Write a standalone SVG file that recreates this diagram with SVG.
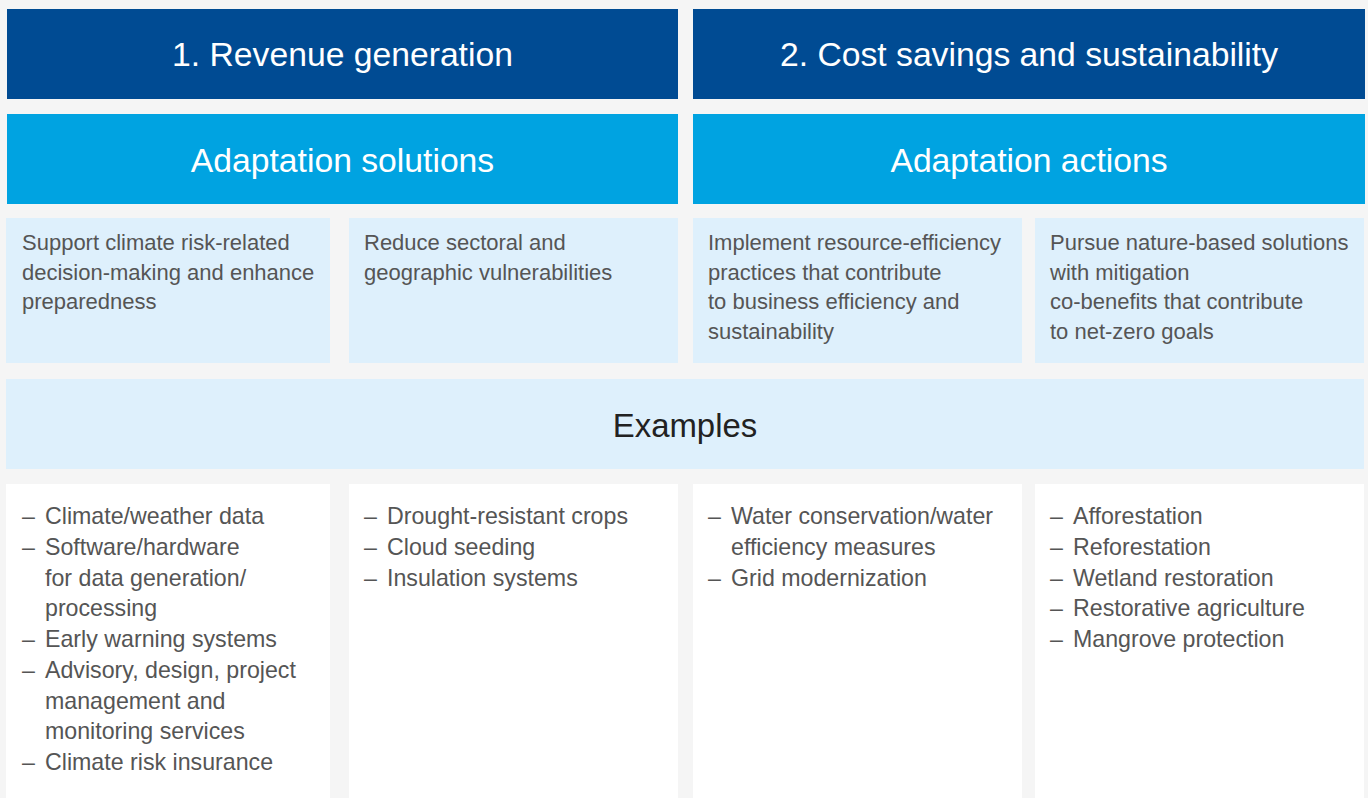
<svg xmlns="http://www.w3.org/2000/svg" width="1368" height="798" viewBox="0 0 1368 798">
<style>
.bg{fill:#f5f5f5}
.dark{fill:#004b93}
.mid{fill:#00a3e1}
.light{fill:#def0fc}
.white{fill:#ffffff}
.h1{font-family:"Liberation Sans",Arial,sans-serif;font-size:33.7px;fill:#ffffff;text-anchor:middle}
.h2{font-family:"Liberation Sans",Arial,sans-serif;font-size:32.9px;fill:#222222;text-anchor:middle}
.body{font-family:"Liberation Sans",Arial,sans-serif;font-size:22px;fill:#555555}
.list{font-family:"Liberation Sans",Arial,sans-serif;font-size:23.2px;fill:#555555}
</style>
<rect class="bg" x="0" y="0" width="1368" height="798"/>
<g id="header-revenue"><rect class="dark" x="7" y="9" width="671" height="90"/><text class="h1" x="342.5" y="66">1. Revenue generation</text></g>
<g id="header-cost"><rect class="dark" x="693" y="9" width="672" height="90"/><text class="h1" x="1029" y="66">2. Cost savings and sustainability</text></g>
<g id="sub-solutions"><rect class="mid" x="7" y="114" width="671" height="90"/><text class="h1" x="342.5" y="172">Adaptation solutions</text></g>
<g id="sub-actions"><rect class="mid" x="693" y="114" width="672" height="90"/><text class="h1" x="1029" y="172">Adaptation actions</text></g>
<g id="card-1"><rect class="light" x="6" y="218" width="324" height="145"/><text class="body"><tspan x="22" y="250">Support climate risk-related</tspan><tspan x="22" y="279.5">decision-making and enhance</tspan><tspan x="22" y="309">preparedness</tspan></text></g>
<g id="card-2"><rect class="light" x="349" y="218" width="329" height="145"/><text class="body"><tspan x="364" y="250">Reduce sectoral and</tspan><tspan x="364" y="279.5">geographic vulnerabilities</tspan></text></g>
<g id="card-3"><rect class="light" x="693" y="218" width="329" height="145"/><text class="body"><tspan x="708" y="250">Implement resource-efficiency</tspan><tspan x="708" y="279.5">practices that contribute</tspan><tspan x="708" y="309">to business efficiency and</tspan><tspan x="708" y="338.5">sustainability</tspan></text></g>
<g id="card-4"><rect class="light" x="1035" y="218" width="329" height="145"/><text class="body"><tspan x="1050" y="250">Pursue nature-based solutions</tspan><tspan x="1050" y="279.5">with mitigation</tspan><tspan x="1050" y="309">co-benefits that contribute</tspan><tspan x="1050" y="338.5">to net-zero goals</tspan></text></g>
<g id="examples"><rect class="light" x="6" y="379" width="1358" height="90"/><text class="h2" x="685" y="437">Examples</text></g>
<g id="list-1"><rect class="white" x="6" y="484" width="324" height="314"/><text class="list"><tspan x="22" y="524">–</tspan><tspan x="45" y="524">Climate/weather data</tspan><tspan x="22" y="555">–</tspan><tspan x="45" y="555">Software/hardware</tspan><tspan x="45" y="585.5">for data generation/</tspan><tspan x="45" y="616">processing</tspan><tspan x="22" y="647">–</tspan><tspan x="45" y="647">Early warning systems</tspan><tspan x="22" y="678">–</tspan><tspan x="45" y="678">Advisory, design, project</tspan><tspan x="45" y="708.5">management and</tspan><tspan x="45" y="739">monitoring services</tspan><tspan x="22" y="770">–</tspan><tspan x="45" y="770">Climate risk insurance</tspan></text></g>
<g id="list-2"><rect class="white" x="349" y="484" width="329" height="314"/><text class="list"><tspan x="364" y="524">–</tspan><tspan x="387" y="524">Drought-resistant crops</tspan><tspan x="364" y="555">–</tspan><tspan x="387" y="555">Cloud seeding</tspan><tspan x="364" y="585.5">–</tspan><tspan x="387" y="585.5">Insulation systems</tspan></text></g>
<g id="list-3"><rect class="white" x="693" y="484" width="329" height="314"/><text class="list"><tspan x="708" y="524">–</tspan><tspan x="731" y="524">Water conservation/water</tspan><tspan x="731" y="555">efficiency measures</tspan><tspan x="708" y="585.5">–</tspan><tspan x="731" y="585.5">Grid modernization</tspan></text></g>
<g id="list-4"><rect class="white" x="1035" y="484" width="329" height="314"/><text class="list"><tspan x="1050" y="524">–</tspan><tspan x="1073" y="524">Afforestation</tspan><tspan x="1050" y="555">–</tspan><tspan x="1073" y="555">Reforestation</tspan><tspan x="1050" y="585.5">–</tspan><tspan x="1073" y="585.5">Wetland restoration</tspan><tspan x="1050" y="616">–</tspan><tspan x="1073" y="616">Restorative agriculture</tspan><tspan x="1050" y="647">–</tspan><tspan x="1073" y="647">Mangrove protection</tspan></text></g>
<g id="connectors"/>
</svg>
